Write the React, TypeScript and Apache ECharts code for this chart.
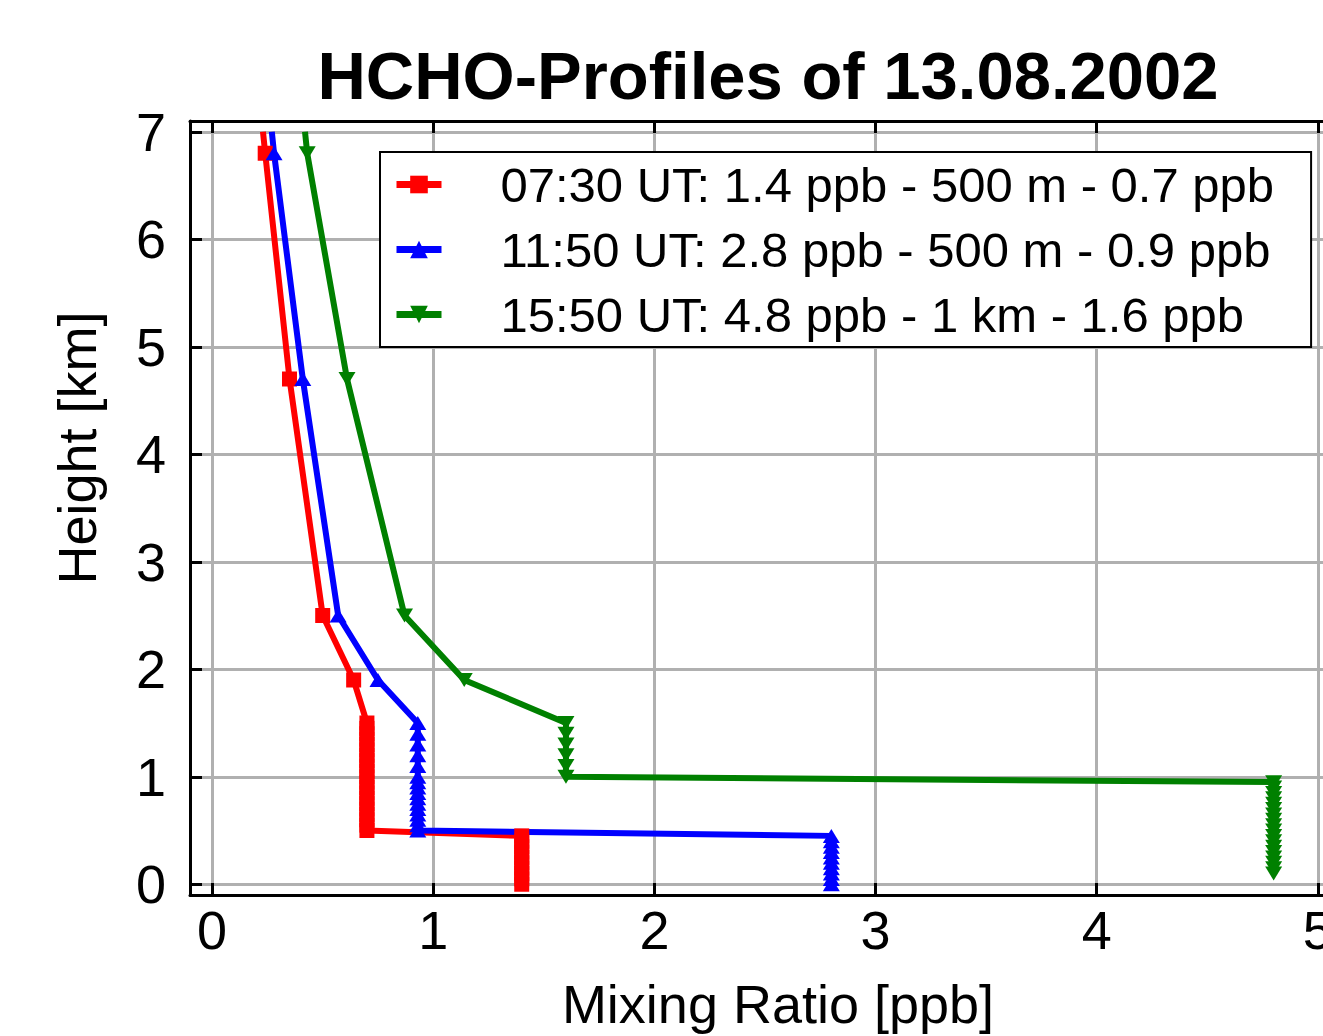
import React, { useEffect, useRef } from "react";
import * as echarts from "echarts";

const TITLE = "HCHO-Profiles of 13.08.2002";
const X_NAME = "Mixing Ratio [ppb]";
const Y_NAME = "Height [km]";
const SERIES_NAMES = [
  "07:30 UT: 1.4 ppb - 500 m - 0.7 ppb",
  "11:50 UT: 2.8 ppb - 500 m - 0.9 ppb",
  "15:50 UT: 4.8 ppb - 1 km - 1.6 ppb",
];
const COLORS = ["#ff0000", "#0000ff", "#008000"];

// 07:30 UT profile (height km, mixing ratio ppb)
const redHeights = [
  7.0, 6.8, 4.7, 2.5, 1.9,
  1.5, 1.45, 1.4, 1.35, 1.3, 1.25, 1.2, 1.15, 1.1, 1.05, 1.0, 0.95, 0.9, 0.85, 0.8, 0.75, 0.7, 0.65, 0.6, 0.55, 0.5,
  0.45, 0.4, 0.35, 0.3, 0.25, 0.2, 0.15, 0.1, 0.05, 0.0,
];
const redValues = [
  0.23, 0.24, 0.35, 0.5, 0.64,
  0.7, 0.7, 0.7, 0.7, 0.7, 0.7, 0.7, 0.7, 0.7, 0.7, 0.7, 0.7, 0.7, 0.7, 0.7, 0.7, 0.7, 0.7, 0.7, 0.7, 0.7,
  1.4, 1.4, 1.4, 1.4, 1.4, 1.4, 1.4, 1.4, 1.4, 1.4,
];

// 11:50 UT profile
const blueHeights = [
  7.0, 6.8, 4.7, 2.5, 1.9,
  1.5, 1.4, 1.3, 1.2, 1.1, 1.0, 0.95, 0.9, 0.85, 0.8, 0.75, 0.7, 0.65, 0.6, 0.55, 0.5,
  0.45, 0.4, 0.35, 0.3, 0.25, 0.2, 0.15, 0.1, 0.05, 0.0,
];
const blueValues = [
  0.27, 0.28, 0.41, 0.57, 0.75,
  0.93, 0.93, 0.93, 0.93, 0.93, 0.93, 0.93, 0.93, 0.93, 0.93, 0.93, 0.93, 0.93, 0.93, 0.93, 0.93,
  2.8, 2.8, 2.8, 2.8, 2.8, 2.8, 2.8, 2.8, 2.8, 2.8,
];

// 15:50 UT profile
const greenHeights = [
  7.0, 6.8, 4.7, 2.5, 1.9,
  1.5, 1.4, 1.3, 1.2, 1.1, 1.0,
  0.95, 0.9, 0.85, 0.8, 0.75, 0.7, 0.65, 0.6, 0.55, 0.5, 0.45, 0.4, 0.35, 0.3, 0.25, 0.2, 0.15, 0.1,
];
const greenValues = [
  0.42, 0.43, 0.61, 0.87, 1.14,
  1.6, 1.6, 1.6, 1.6, 1.6, 1.6,
  4.8, 4.8, 4.8, 4.8, 4.8, 4.8, 4.8, 4.8, 4.8, 4.8, 4.8, 4.8, 4.8, 4.8, 4.8, 4.8, 4.8, 4.8,
];

const X_MIN = -0.1;
const X_MAX = 5.1;
const Y_MIN = -0.1;
const Y_MAX = 7.1;

const FONT = "'Liberation Sans', Arial, Helvetica, sans-serif";

function buildData(heights: number[], values: number[]) {
  return heights.map((h, i) =>
    i === 0 ? { value: [values[i], h], symbol: "none" } : { value: [values[i], h] }
  );
}

export default function App() {
  const ref = useRef<HTMLDivElement>(null);

  useEffect(() => {
    if (!ref.current) return;
    const chart = echarts.init(ref.current, undefined, { renderer: "svg" });

    const axisLine = { show: true, onZero: false, lineStyle: { color: "#000", width: 3 } };
    const axisTick = { show: true, inside: true, length: 12, lineStyle: { color: "#000", width: 3 } };
    const splitLine = { show: true, lineStyle: { color: "#b0b0b0", width: 3 } };
    const labelStyle = { color: "#000", fontSize: 54, fontFamily: FONT, showMinLabel: false, showMaxLabel: false };

    const lineSeries = (idx: number, heights: number[], values: number[], symbol: string, size: any, rotate: number) => ({
      type: "line",
      name: SERIES_NAMES[idx],
      data: buildData(heights, values),
      symbol,
      symbolSize: size,
      symbolRotate: rotate,
      showAllSymbol: true,
      color: COLORS[idx],
      lineStyle: { color: COLORS[idx], width: 6 },
      itemStyle: { color: COLORS[idx] },
      z: 3,
    });

    chart.setOption({
      animation: false,
      backgroundColor: "#fff",
      grid: { left: 190, right: 20, top: 121, bottom: 141, containLabel: false },
      xAxis: [
        {
          type: "value",
          min: X_MIN,
          max: X_MAX,
          splitNumber: 5,
          position: "bottom",
          axisLine,
          axisTick,
          splitLine,
          axisLabel: { ...labelStyle, margin: 8 },
        },
        {
          type: "value",
          min: X_MIN,
          max: X_MAX,
          splitNumber: 5,
          position: "top",
          axisLine,
          axisTick,
          splitLine: { show: false },
          axisLabel: { show: false },
        },
      ],
      yAxis: [
        {
          type: "value",
          min: Y_MIN,
          max: Y_MAX,
          splitNumber: 7,
          position: "left",
          axisLine,
          axisTick,
          splitLine,
          axisLabel: { ...labelStyle, margin: 24 },
        },
        {
          type: "value",
          min: Y_MIN,
          max: Y_MAX,
          splitNumber: 7,
          position: "right",
          axisLine,
          axisTick,
          splitLine: { show: false },
          axisLabel: { show: false },
        },
      ],
      legend: {
        show: true,
        orient: "vertical",
        left: 380,
        top: 152,
        padding: [8, 37, 8, 13],
        itemGap: 16,
        itemWidth: 45,
        itemHeight: 22,
        borderColor: "#000",
        borderWidth: 2,
        borderRadius: 0,
        backgroundColor: "#fff",
        lineStyle: { width: 7 },
        textStyle: { color: "#000", fontSize: 49, fontFamily: FONT, lineHeight: 48, padding: [0, 0, 0, 54] },
        data: SERIES_NAMES,
        selectedMode: false,
      },
      series: [
        lineSeries(0, redHeights, redValues, "rect", 15, 0),
        lineSeries(1, blueHeights, blueValues, "triangle", [17, 14], 0),
        lineSeries(2, greenHeights, greenValues, "triangle", [17, 14], 180),
      ],
      graphic: [
        {
          type: "text",
          x: 768,
          y: 75,
          style: { text: TITLE, font: `bold 67px ${FONT}`, fill: "#000", align: "center", verticalAlign: "middle" },
        },
        {
          type: "text",
          x: 778,
          y: 1004,
          style: { text: X_NAME, font: `54px ${FONT}`, fill: "#000", align: "center", verticalAlign: "middle" },
        },
        {
          type: "text",
          x: 77,
          y: 448,
          rotation: Math.PI / 2,
          style: { text: Y_NAME, font: `54px ${FONT}`, fill: "#000", align: "center", verticalAlign: "middle" },
        },
      ],
    });

    return () => chart.dispose();
  }, []);

  return (
    <div style={{ position: "absolute", left: 0, top: 0, width: 1323, height: 1036, overflow: "hidden", background: "#fff" }}>
      <div ref={ref} style={{ width: 1360, height: 1036 }} />
    </div>
  );
}
